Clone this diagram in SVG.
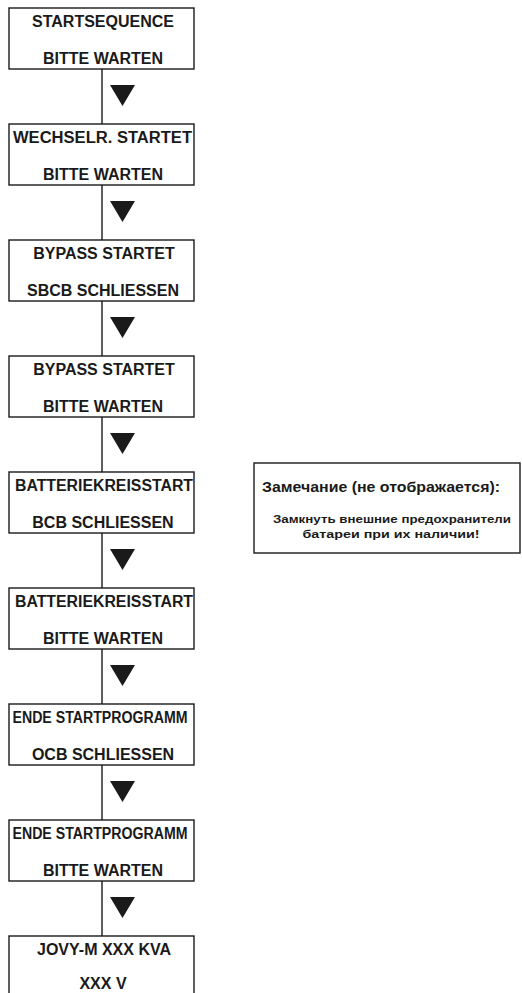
<svg xmlns="http://www.w3.org/2000/svg" width="522" height="993" viewBox="0 0 522 993">
<style>
.box{fill:#fff;stroke:#1a1a1a;stroke-width:1.4}
.t{font-family:"Liberation Sans",Arial,sans-serif;font-weight:bold;font-size:16px;fill:#1a1a1a;text-anchor:middle}
.c{stroke:#1a1a1a;stroke-width:1.4;fill:none}
.tri{fill:#1a1a1a}
.n1{font-family:"Liberation Sans",Arial,sans-serif;font-weight:bold;font-size:14px;fill:#1a1a1a}
.n2{font-family:"Liberation Sans",Arial,sans-serif;font-weight:bold;font-size:11px;fill:#1a1a1a;text-anchor:middle}
</style>
<rect width="522" height="993" fill="#fff"/>
<g id="connectors">
<line class="c" x1="102" y1="69" x2="102" y2="124"/>
<line class="c" x1="102" y1="185" x2="102" y2="240"/>
<line class="c" x1="102" y1="301" x2="102" y2="356"/>
<line class="c" x1="102" y1="417" x2="102" y2="472"/>
<line class="c" x1="102" y1="533" x2="102" y2="588"/>
<line class="c" x1="102" y1="649" x2="102" y2="704"/>
<line class="c" x1="102" y1="765" x2="102" y2="820"/>
<line class="c" x1="102" y1="881" x2="102" y2="936"/>
<polygon class="tri" points="110,85 135,85 122.5,106"/>
<polygon class="tri" points="110,201 135,201 122.5,222"/>
<polygon class="tri" points="110,317 135,317 122.5,338"/>
<polygon class="tri" points="110,433 135,433 122.5,454"/>
<polygon class="tri" points="110,549 135,549 122.5,570"/>
<polygon class="tri" points="110,665 135,665 122.5,686"/>
<polygon class="tri" points="110,781 135,781 122.5,802"/>
<polygon class="tri" points="110,897 135,897 122.5,918"/>
</g>
<g id="n1"><rect class="box" x="9" y="8" width="185" height="61"/>
<text class="t" x="103" y="27">STARTSEQUENCE</text><text class="t" x="103" y="64">BITTE WARTEN</text></g>
<g id="n2"><rect class="box" x="9" y="124" width="185" height="61"/>
<text class="t" x="102.5" y="143" textLength="179" lengthAdjust="spacingAndGlyphs">WECHSELR. STARTET</text><text class="t" x="103" y="180">BITTE WARTEN</text></g>
<g id="n3"><rect class="box" x="9" y="240" width="185" height="61"/>
<text class="t" x="104" y="259">BYPASS STARTET</text><text class="t" x="103" y="296">SBCB SCHLIESSEN</text></g>
<g id="n4"><rect class="box" x="9" y="356" width="185" height="61"/>
<text class="t" x="104" y="375">BYPASS STARTET</text><text class="t" x="103" y="412">BITTE WARTEN</text></g>
<g id="n5"><rect class="box" x="9" y="472" width="185" height="61"/>
<text class="t" x="104" y="491" textLength="178" lengthAdjust="spacingAndGlyphs">BATTERIEKREISSTART</text><text class="t" x="103" y="528">BCB SCHLIESSEN</text></g>
<g id="n6"><rect class="box" x="9" y="588" width="185" height="61"/>
<text class="t" x="104" y="607" textLength="178" lengthAdjust="spacingAndGlyphs">BATTERIEKREISSTART</text><text class="t" x="103" y="644">BITTE WARTEN</text></g>
<g id="n7"><rect class="box" x="9" y="704" width="185" height="61"/>
<text class="t" x="100" y="723" textLength="175" lengthAdjust="spacingAndGlyphs">ENDE STARTPROGRAMM</text><text class="t" x="103" y="760">OCB SCHLIESSEN</text></g>
<g id="n8"><rect class="box" x="9" y="820" width="185" height="61"/>
<text class="t" x="100" y="839" textLength="175" lengthAdjust="spacingAndGlyphs">ENDE STARTPROGRAMM</text><text class="t" x="103" y="876">BITTE WARTEN</text></g>
<g id="n9"><rect class="box" x="9" y="936" width="185" height="70"/>
<text class="t" x="104" y="955">JOVY-M XXX KVA</text><text class="t" x="103" y="989">XXX V</text></g>
<g id="note"><rect class="box" x="254" y="463" width="266" height="90"/>
<text class="n1" x="262" y="492" textLength="238" lengthAdjust="spacingAndGlyphs">Замечание (не отображается):</text>
<text class="n2" x="392" y="523" textLength="238" lengthAdjust="spacingAndGlyphs">Замкнуть внешние предохранители</text>
<text class="n2" x="391" y="538" textLength="177" lengthAdjust="spacingAndGlyphs">батареи при их наличии!</text></g>
</svg>
